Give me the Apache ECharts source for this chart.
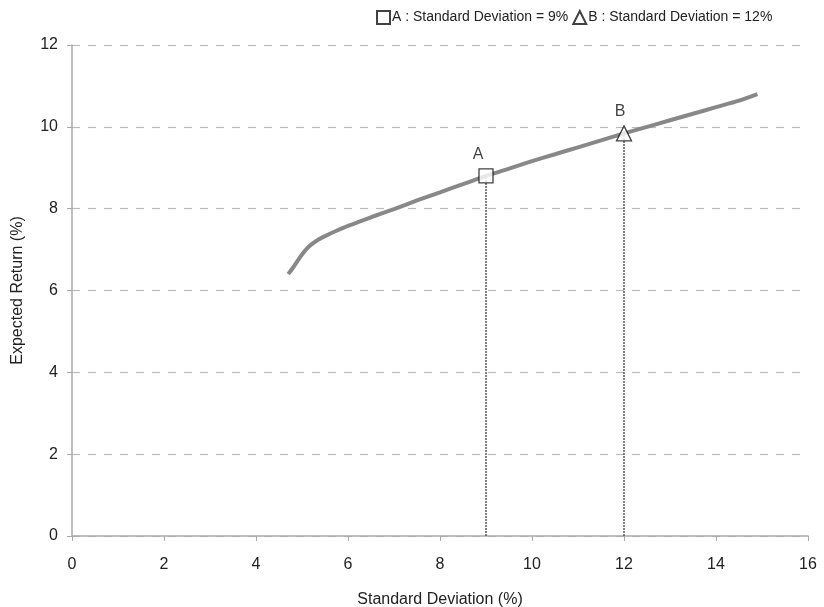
<!DOCTYPE html>
<html><head><meta charset="utf-8">
<script src="https://cdn.jsdelivr.net/npm/echarts@6/dist/echarts.min.js"></script>
<style>html,body{margin:0;padding:0;background:#fff}#c{width:824px;height:607px}</style>
</head><body><div id="c"></div>
<script>
const frontierSD  = [4.7, 4.8, 4.9, 5.0, 5.1, 5.2, 5.35, 5.5, 5.75, 6.0, 6.5, 7.0, 7.5, 8.0, 8.5, 9.0, 9.5, 10.0, 10.5, 11.0, 11.5, 12.0, 12.5, 13.0, 13.5, 14.0, 14.5, 14.9];
const frontierRet = [6.4, 6.55, 6.72, 6.88, 7.02, 7.12, 7.24, 7.33, 7.46, 7.58, 7.79, 7.99, 8.2, 8.4, 8.6, 8.8, 8.98, 9.16, 9.33, 9.5, 9.67, 9.84, 10.0, 10.16, 10.32, 10.48, 10.64, 10.8];
const pointNames = ['A', 'B'];
const pointSD = [9, 12];
const pointRet = [8.8, 9.84];
const legendNames = ['A : Standard Deviation = 9%', 'B : Standard Deviation = 12%'];
const xTicks = [0, 2, 4, 6, 8, 10, 12, 14, 16];
const yTicks = [0, 2, 4, 6, 8, 10, 12];

const font = 'Liberation Sans, Arial, sans-serif';
const chart = echarts.init(document.getElementById('c'));
const symbols = ['rect', 'triangle'];
const labelOffsets = [[-8, -2], [-4, -2]];
const pointSeries = pointNames.map((n, i) => ({
  name: legendNames[i], type: 'scatter', symbol: symbols[i], symbolSize: i === 0 ? 14 : 15,
  itemStyle: { color: '#fff', borderColor: '#111', borderWidth: 1.3 },
  label: { show: true, position: 'top', distance: 4, offset: labelOffsets[i], formatter: n, color: '#111', fontSize: 16, fontFamily: font },
  data: [[pointSD[i], pointRet[i]]], z: 5
}));
const dropSeries = pointNames.map((n, i) => ({
  type: 'line', symbol: 'none', silent: true,
  lineStyle: { color: '#555', width: 1.5, type: [2, 1] },
  data: [[pointSD[i], 0], [pointSD[i], pointRet[i]]], z: 2
}));
chart.setOption({
  animation: false,
  grid: { left: 72, right: 16, top: 45, bottom: 71, outerBoundsMode: 'none', containLabel: false },
  legend: {
    data: legendNames.map(n => ({ name: n })), top: 5, left: 371,
    itemWidth: 13, itemHeight: 13, itemGap: 4,
    textStyle: { fontSize: 14, color: '#222', fontFamily: font, padding: [0, 0, 0, -3] }
  },
  xAxis: {
    type: 'value', min: xTicks[0], max: xTicks[xTicks.length - 1], interval: 2,
    name: 'Standard Deviation (%)', nameLocation: 'middle', nameGap: 56,
    nameTextStyle: { fontSize: 16, color: '#222', fontFamily: font },
    axisLine: { lineStyle: { color: '#aaa', width: 1.5 } },
    axisTick: { show: true, length: 5, lineStyle: { color: '#aaa' } },
    axisLabel: { fontSize: 16, color: '#222', margin: 21, fontFamily: font },
    splitLine: { show: false }
  },
  yAxis: {
    type: 'value', min: yTicks[0], max: yTicks[yTicks.length - 1], interval: 2,
    name: 'Expected Return (%)', nameLocation: 'middle', nameGap: 46,
    nameTextStyle: { fontSize: 16, color: '#222', fontFamily: font },
    axisLine: { show: true, lineStyle: { color: '#aaa', width: 1.5 } },
    axisTick: { show: true, length: 5, lineStyle: { color: '#aaa' } },
    axisLabel: { fontSize: 16, color: '#222', margin: 14, fontFamily: font },
    splitLine: { show: true, lineStyle: { color: '#bbb', type: [8, 8], width: 1.2 } }
  },
  series: [
    { type: 'line', symbol: 'none', smooth: 0.3, silent: true,
      lineStyle: { color: '#888', width: 4 },
      data: frontierSD.map((x, i) => [x, frontierRet[i]]), z: 3 },
    ...dropSeries,
    ...pointSeries
  ]
});
</script></body></html>
